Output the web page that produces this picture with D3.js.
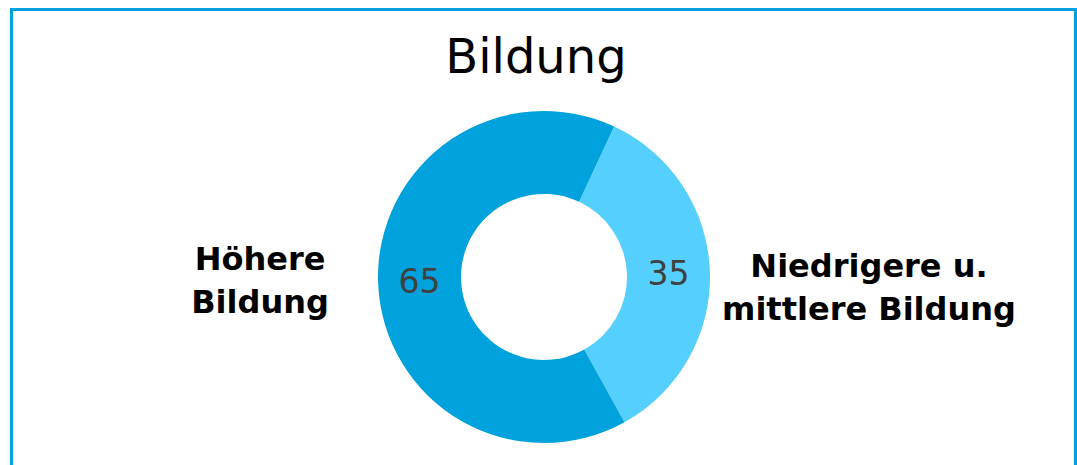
<!DOCTYPE html>
<html lang="de">
<head>
  <meta charset="UTF-8">
  <title>Bildung</title>
  <script src="https://cdn.jsdelivr.net/npm/d3@7"></script>
  <style>
    body { margin: 0; background: #fff; }
    svg { display: block; font-family: "DejaVu Sans", Verdana, sans-serif; }
  </style>
</head>
<body>
  <svg id="chart" width="1077" height="465"></svg>
  <script>
    // Daten
    const categories = ['Niedrigere u. mittlere Bildung', 'Höhere Bildung'];
    const values = [35, 65];
    const colors = ['#55CFFE', '#00A2DD'];
    const labelLines = [['Niedrigere u.', 'mittlere Bildung'], ['Höhere', 'Bildung']];

    const width = 1077, height = 465;
    const cx = 544, cy = 277;
    const outerR = 166, innerR = 83;

    const svg = d3.select('#chart');

    // Rahmen
    svg.append('rect')
      .attr('x', 11.5).attr('y', 9.5)
      .attr('width', 1064).attr('height', 470)
      .attr('fill', 'none')
      .attr('stroke', '#00A2DD')
      .attr('stroke-width', 3);

    // Titel
    svg.append('text')
      .attr('x', 536).attr('y', 73)
      .attr('text-anchor', 'middle')
      .attr('font-size', 48)
      .attr('fill', '#000')
      .text('Bildung');

    const data = categories.map((c, i) => ({ name: c, value: values[i], color: colors[i], lines: labelLines[i] }));

    const startA = 25 * Math.PI / 180;
    const pie = d3.pie()
      .value(d => d.value)
      .sort(null)
      .startAngle(startA)
      .endAngle(startA + 2 * Math.PI);

    const arc = d3.arc().innerRadius(innerR).outerRadius(outerR);

    const g = svg.append('g').attr('transform', 'translate(' + cx + ',' + cy + ')');

    const arcs = pie(data);

    g.selectAll('path')
      .data(arcs)
      .enter()
      .append('path')
      .attr('d', arc)
      .attr('fill', d => d.data.color);

    // Werte
    g.selectAll('text.val')
      .data(arcs)
      .enter()
      .append('text')
      .attr('class', 'val')
      .attr('transform', d => 'translate(' + arc.centroid(d) + ')')
      .attr('text-anchor', 'middle')
      .attr('dy', '0.36em')
      .attr('font-size', 33)
      .attr('fill', '#404040')
      .text(d => d.data.value);

    // Kategorien
    const labelPos = [{ x: 869, y: 277 }, { x: 260, y: 270 }];
    svg.selectAll('text.cat')
      .data(data)
      .enter()
      .append('text')
      .attr('class', 'cat')
      .attr('text-anchor', 'middle')
      .attr('font-size', 32)
      .attr('font-weight', 'bold')
      .attr('fill', '#000')
      .each(function (d, i) {
        d3.select(this).selectAll('tspan')
          .data(d.lines)
          .enter()
          .append('tspan')
          .attr('x', labelPos[i].x)
          .attr('y', (l, j) => labelPos[i].y + j * 42.5)
          .text(l => l);
      });
  </script>
</body>
</html>
